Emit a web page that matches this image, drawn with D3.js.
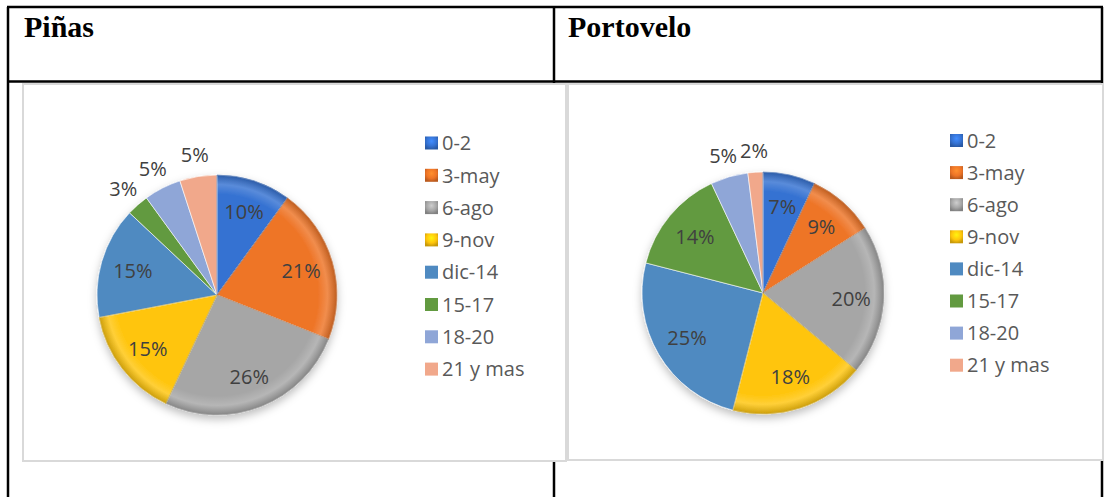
<!DOCTYPE html>
<html>
<head>
<meta charset="utf-8">
<script src="https://cdn.jsdelivr.net/npm/d3@7"></script>
<style>
  body { margin: 0; background: #fff; }
  svg { display: block; }
</style>
</head>
<body>
<svg id="chart"></svg>
<script>
// Data
const categories = ["0-2", "3-may", "6-ago", "9-nov", "dic-14", "15-17", "18-20", "21 y mas"];
const pinasValues = [10, 21, 26, 15, 15, 3, 5, 5];
const portoveloValues = [7, 9, 20, 18, 25, 14, 5, 2];
const titles = ["Piñas", "Portovelo"];
const colors = ["#3572d2", "#ee7426", "#a6a6a6", "#ffc50c", "#4f8ac1", "#629a40", "#8fa6d7", "#f1a88b"];
const bevelled = [true, true, true, true, false, false, false, false];

const width = 1105, height = 497;

const svg = d3.select("#chart")
    .attr("width", width)
    .attr("height", height);

const defs = svg.append("defs");

// soft shadow under the pie
const shadow = defs.append("filter")
    .attr("id", "shadow")
    .attr("x", "-20%").attr("y", "-20%")
    .attr("width", "140%").attr("height", "140%");
shadow.append("feDropShadow")
    .attr("dx", 0).attr("dy", 4)
    .attr("stdDeviation", 4)
    .attr("flood-color", "#000")
    .attr("flood-opacity", 0.25);

// legend square gradient
colors.forEach((c, i) => {
    if (!bevelled[i]) return;
    const lg = defs.append("radialGradient")
        .attr("id", "leg" + i)
        .attr("cx", "50%").attr("cy", "35%").attr("r", "65%");
    lg.append("stop").attr("offset", "0%").attr("stop-color", d3.color(c).brighter(0.6));
    lg.append("stop").attr("offset", "60%").attr("stop-color", c);
    lg.append("stop").attr("offset", "100%").attr("stop-color", d3.color(c).darker(0.7));
});

// Table frame
const tableLines = [
    [7, 7, 1103, 7],
    [8, 7, 8, 497],
    [554, 7, 554, 497],
    [1102, 7, 1102, 497],
    [8, 81.5, 1103, 81.5]
];
svg.selectAll("line.table")
    .data(tableLines)
    .enter()
    .append("line")
    .attr("class", "table")
    .attr("x1", d => d[0]).attr("y1", d => d[1])
    .attr("x2", d => d[2]).attr("y2", d => d[3])
    .attr("stroke", "#000")
    .attr("stroke-width", 2.5);

// Header titles
svg.selectAll("text.title")
    .data(titles)
    .enter()
    .append("text")
    .attr("class", "title")
    .attr("x", (d, i) => i === 0 ? 24 : 568)
    .attr("y", 37)
    .attr("font-family", "'Liberation Serif', 'Times New Roman', serif")
    .attr("font-weight", "bold")
    .attr("font-size", 30)
    .attr("fill", "#000")
    .text(d => d);

// Panels
const panels = [
    { values: pinasValues, box: [23, 84, 543, 377], cx: 217, cy: 295, r: 120, legX: 425, legY: 143, step: 32.3 },
    { values: portoveloValues, box: [568, 84, 535, 376], cx: 763, cy: 293, r: 121, legX: 950, legY: 140.5, step: 32.1 }
];

const pie = d3.pie().sort(null).value(d => d);

panels.forEach((p, k) => {
    const g = svg.append("g");

    // rim gradient for the bevelled slices, centred on the pie
    const rim = defs.append("radialGradient")
        .attr("id", "rim" + k)
        .attr("gradientUnits", "userSpaceOnUse")
        .attr("cx", 0).attr("cy", 0).attr("r", p.r);
    rim.append("stop").attr("offset", "0%").attr("stop-color", "#fff").attr("stop-opacity", 0);
    rim.append("stop").attr("offset", "84%").attr("stop-color", "#fff").attr("stop-opacity", 0);
    rim.append("stop").attr("offset", "92%").attr("stop-color", "#fff").attr("stop-opacity", 0.18);
    rim.append("stop").attr("offset", "100%").attr("stop-color", "#000").attr("stop-opacity", 0.2);

    g.append("rect")
        .attr("x", p.box[0]).attr("y", p.box[1])
        .attr("width", p.box[2]).attr("height", p.box[3])
        .attr("fill", "#fff")
        .attr("stroke", "#d9d9d9")
        .attr("stroke-width", 2);

    const arc = d3.arc().innerRadius(0).outerRadius(p.r);
    const arcs = pie(p.values);

    const pg = g.append("g")
        .attr("transform", `translate(${p.cx},${p.cy})`);

    const slices = pg.append("g").attr("filter", "url(#shadow)");

    slices.selectAll("path.slice")
        .data(arcs)
        .enter()
        .append("path")
        .attr("class", "slice")
        .attr("d", arc)
        .attr("fill", (d, i) => colors[i])
        .attr("stroke", "#fff")
        .attr("stroke-width", 0.6);

    // bevel overlay on first slices
    slices.selectAll("path.bevel")
        .data(arcs.filter((d, i) => bevelled[i]))
        .enter()
        .append("path")
        .attr("class", "bevel")
        .attr("d", arc)
        .attr("fill", `url(#rim${k})`)
        .attr("stroke", d => d3.color(colors[d.index]).darker(0.5))
        .attr("stroke-width", 1)
        .attr("stroke-opacity", 0.5);

    // data labels
    const inner = d3.arc().innerRadius(p.r * 0.73).outerRadius(p.r * 0.73);
    const outer = d3.arc().innerRadius(p.r * 1.18).outerRadius(p.r * 1.18);

    pg.selectAll("text.label")
        .data(arcs)
        .enter()
        .append("text")
        .attr("class", "label")
        .attr("transform", d => `translate(${(d.value < 6 ? outer : inner).centroid(d)})`)
        .attr("text-anchor", "middle")
        .attr("dy", "0.36em")
        .attr("font-family", "'Open Sans', sans-serif")
        .attr("font-size", 20)
        .attr("fill", "#404040")
        .text(d => d.value + "%");

    // legend
    const leg = g.selectAll("g.legend")
        .data(categories)
        .enter()
        .append("g")
        .attr("class", "legend")
        .attr("transform", (d, i) => `translate(${p.legX}, ${p.legY + i * p.step})`);

    leg.append("rect")
        .attr("x", 0).attr("y", -6.5)
        .attr("width", 13).attr("height", 13)
        .attr("fill", (d, i) => bevelled[i] ? `url(#leg${i})` : colors[i]);

    leg.append("text")
        .attr("x", 17)
        .attr("dy", "0.36em")
        .attr("font-family", "'Open Sans', sans-serif")
        .attr("font-size", 20)
        .attr("fill", "#595959")
        .text(d => d);
});
</script>
</body>
</html>
